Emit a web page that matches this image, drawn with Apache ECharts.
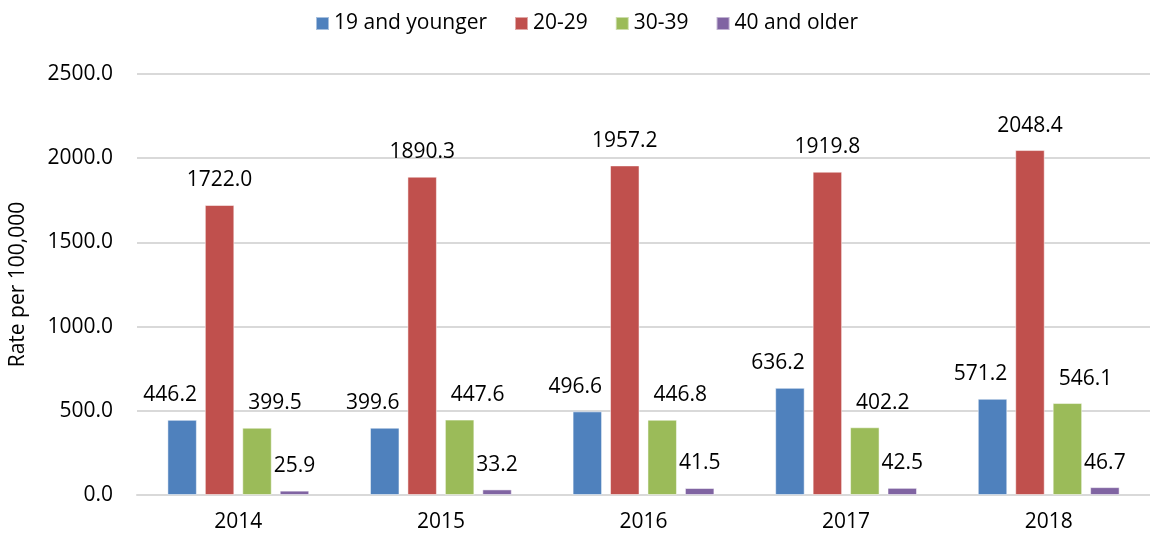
<!DOCTYPE html>
<html>
<head>
<meta charset="utf-8">
<script src="https://cdn.jsdelivr.net/npm/echarts@6/dist/echarts.min.js"></script>
<style>
html,body{margin:0;padding:0;background:#fff;}
#chart{width:1150px;height:538px;}
</style>
</head>
<body>
<div id="chart"></div>
<script>
var categories = ['2014', '2015', '2016', '2017', '2018'];
var seriesNames = ['19 and younger', '20-29', '30-39', '40 and older'];
var young = [446.2, 399.6, 496.6, 636.2, 571.2];
var twenties = [1722.0, 1890.3, 1957.2, 1919.8, 2048.4];
var thirties = [399.5, 447.6, 446.8, 402.2, 546.1];
var older = [25.9, 33.2, 41.5, 42.5, 46.7];
var yTicks = [0, 500, 1000, 1500, 2000, 2500];

var colors = ['#4F81BD', '#C0504D', '#9BBB59', '#8064A2'];
var labelOffsets = [[-12, 0], [0, 0], [18, 0], [0, 0]];
var dataSets = [young, twenties, thirties, older];
var FONT = 'Open Sans';
var FS = 21;

var chart = echarts.init(document.getElementById('chart'));
chart.setOption({
  animation: false,
  color: colors,
  textStyle: { fontFamily: FONT },
  legend: {
    top: 8,
    left: 310,
    itemWidth: 13,
    itemHeight: 13,
    itemGap: 27,
    icon: 'rect',
    textStyle: { fontSize: FS, color: '#000', fontFamily: FONT },
    data: seriesNames
  },
  grid: { left: 137, right: -8, top: 74, bottom: 43 },
  xAxis: {
    type: 'category',
    data: categories,
    axisLine: { lineStyle: { color: '#d9d9d9', width: 2 } },
    axisTick: { show: false },
    axisLabel: { fontSize: FS, color: '#000', margin: 17, fontFamily: FONT }
  },
  yAxis: {
    type: 'value',
    min: yTicks[0],
    max: yTicks[yTicks.length - 1],
    interval: 500,
    name: 'Rate per 100,000',
    nameLocation: 'middle',
    nameGap: 108,
    nameTextStyle: { fontSize: FS, color: '#000', fontFamily: FONT },
    axisLine: { show: false },
    axisTick: { show: false },
    splitLine: { lineStyle: { color: '#d9d9d9', width: 2 } },
    axisLabel: {
      fontSize: FS, color: '#000', margin: 24, fontFamily: FONT,
      formatter: function (v) { return v.toFixed(1); }
    }
  },
  series: seriesNames.map(function (name, i) {
    return {
      name: name,
      type: 'bar',
      data: dataSets[i],
      barCategoryGap: '30%',
      barGap: '27%',
      itemStyle: { color: colors[i], borderColor: 'rgba(255,255,255,0.5)', borderWidth: 1 },
      label: {
        show: true,
        position: 'top',
        distance: 14,
        offset: labelOffsets[i],
        fontSize: FS,
        color: '#000',
        fontFamily: FONT,
        formatter: function (p) { return p.value.toFixed(1); }
      }
    };
  })
});
</script>
</body>
</html>
